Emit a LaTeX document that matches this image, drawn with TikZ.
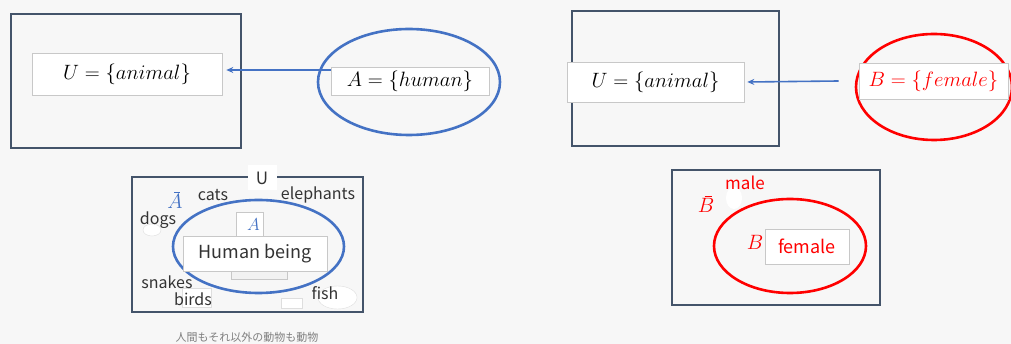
\documentclass[tikz,border=0pt]{standalone}
\usepackage{fontspec}
\newfontfamily\jpfont{Noto Sans CJK JP}
\usetikzlibrary{arrows.meta,shapes.geometric}
\definecolor{bgc}{HTML}{F7F7F7}
\definecolor{navy}{HTML}{44546A}
\definecolor{setblue}{HTML}{4472C4}
\definecolor{setred}{HTML}{FF0000}
\definecolor{boxline}{HTML}{C8C8C8}
\definecolor{captiongray}{HTML}{808080}
% complement: a short bar over the top of an italic capital
\newcommand{\complementof}[1]{\mkern6mu\overline{\mkern-6mu#1\mkern-2mu}\mkern2mu}
\begin{document}
\begin{tikzpicture}[x=1pt,y=-1pt,
  frame/.style={draw=navy,line width=2pt,rectangle,inner sep=0pt},
  textbox/.style={draw=boxline,line width=0.6pt,fill=white,rectangle,inner sep=0pt},
  setring/.style={ellipse,line width=2.6pt,inner sep=0pt},
  mathlbl/.style={font=\fontsize{22}{24}\selectfont,inner sep=0pt},
  word/.style={font=\jpfont\fontsize{16}{18}\selectfont,text=black!80,inner sep=0pt},
  link/.style={draw=setblue,line width=1.6pt,-{Stealth[length=7pt,width=6pt]}},
  blank/.style={fill=white,draw=boxline!60,line width=0.4pt,inner sep=0pt}]
\fill[bgc] (0,0) rectangle (1011,344);
\useasboundingbox (0,0) rectangle (1011,344);

% ---- universe U with subset A ----
\node[frame,minimum width=230pt,minimum height=134pt] (uni1) at (126,81) {};
\node[textbox,minimum width=190pt,minimum height=42pt,mathlbl] (ubox1) at (127,74) {$U=\{animal\}$};
\node[setring,draw=setblue,minimum width=182pt,minimum height=106pt] (ringA) at (409,82) {};
\node[textbox,minimum width=158pt,minimum height=28pt,mathlbl,font=\fontsize{21}{23}\selectfont] (abox1) at (410,81) {$A=\{human\}$};
\draw[link] ([yshift=11pt]abox1.west) -- ([xshift=4pt,yshift=4pt]ubox1.east);

% ---- universe U with subset B ----
\node[frame,minimum width=207pt,minimum height=135pt] (uni2) at (675.5,78.5) {};
\node[textbox,minimum width=177pt,minimum height=40pt,mathlbl] (ubox2) at (655.5,82) {$U=\{animal\}$};
\node[setring,draw=setred,minimum width=156pt,minimum height=106pt] (ringB) at (934,87) {};
\node[textbox,minimum width=149pt,minimum height=36pt,mathlbl,font=\fontsize{21}{23}\selectfont,text=setred] (bbox2) at (933.5,81) {$B=\{female\}$};
\draw[link] ([xshift=-20pt]bbox2.west) -- ([xshift=3pt]ubox2.east);

% ---- Venn diagram: animals ----
\node[frame,minimum width=231pt,minimum height=135pt] (venn1) at (247.5,244.5) {};
\node[fill=white,minimum width=29pt,minimum height=25pt,inner sep=0pt,font=\jpfont\fontsize{17}{19}\selectfont,text=black!80] (ulbl) at (262,178) {U};
\node[font=\fontsize{20}{22}\selectfont,text=setblue,inner sep=0pt] (abar) at (175,200) {$\complementof{A}$};
\node[blank,ellipse,minimum width=18pt,minimum height=12pt] (dogspot) at (152,230) {};
\node[word] (cats) at (213,195) {cats};
\node[word] (elephants) at (318,195) {elephants};
\node[word] (dogs) at (158,220) {dogs};
\node[setring,draw=setblue,minimum width=171pt,minimum height=93pt] (ringA2) at (258.5,246.5) {};
\node[textbox,minimum width=27pt,minimum height=25pt,font=\fontsize{18}{20}\selectfont,text=setblue] (albl) at (249.5,224.5) {\hspace*{8pt}$A$};
\node[draw=boxline,fill=black!5,line width=0.5pt,minimum width=56pt,minimum height=17pt,inner sep=0pt] (shade) at (259,270.5) {};
\node[textbox,minimum width=144pt,minimum height=35pt,word,font=\jpfont\fontsize{18}{20}\selectfont] (human) at (255,253.5) {Human being};
\node[blank,minimum width=29pt,minimum height=19pt] (birdbox) at (196.5,297.5) {};
\node[word] (snakes) at (167,282) {snakes};
\node[word] (birds) at (193,299) {birds};
\node[blank,ellipse,minimum width=39pt,minimum height=23pt] (fishspot) at (337.5,297.5) {};
\node[word] (fish) at (325,293) {fish};
\node[blank,minimum width=21pt,minimum height=10pt] (smallbox) at (291.5,303) {};
\node[font=\jpfont\fontsize{11}{13}\selectfont,text=captiongray,inner sep=0pt] (caption) at (247,337) {人間もそれ以外の動物も動物};

% ---- Venn diagram: male / female ----
\node[frame,minimum width=208pt,minimum height=135pt] (venn2) at (776,237.5) {};
\node[fill=white,ellipse,minimum width=16pt,minimum height=22pt,inner sep=0pt] (malespot) at (734,198) {};
\node[word,text=setred,font=\jpfont\fontsize{17}{19}\selectfont] (male) at (745,183) {male};
\node[font=\fontsize{20}{22}\selectfont,text=setred,inner sep=0pt] (bbar) at (706,204) {$\complementof{B}$};
\node[setring,draw=setred,minimum width=152pt,minimum height=94pt] (ringB2) at (790,246) {};
\node[font=\fontsize{20}{22}\selectfont,text=setred,inner sep=0pt] (blbl) at (755,242) {$B$};
\node[textbox,minimum width=84pt,minimum height=35pt,word,text=setred,font=\jpfont\fontsize{18}{20}\selectfont] (female) at (807,246.5) {female};
\end{tikzpicture}
\end{document}
